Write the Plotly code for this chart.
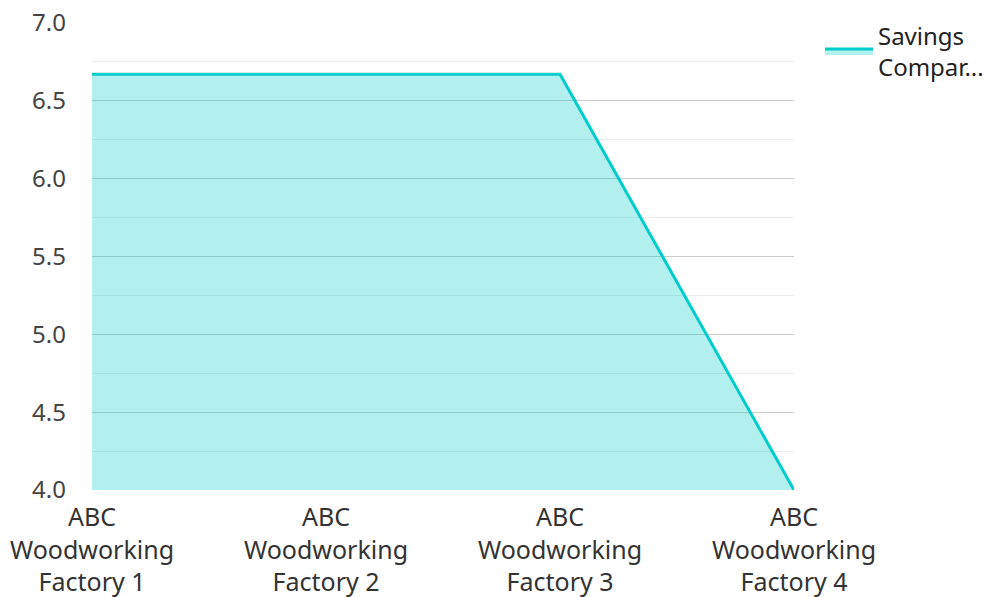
import plotly.graph_objects as go

categories = ["ABC<br>Woodworking<br>Factory 1", "ABC<br>Woodworking<br>Factory 2",
              "ABC<br>Woodworking<br>Factory 3", "ABC<br>Woodworking<br>Factory 4"]
values = [6.67, 6.67, 6.67, 4.0]
series_name = "Savings<br>Compar..."
y_ticks = [4.0, 4.5, 5.0, 5.5, 6.0, 6.5, 7.0]
y_tick_labels = ["4.0", "4.5", "5.0", "5.5", "6.0", "6.5", "7.0"]

fig = go.Figure()
fig.add_trace(go.Scatter(
    x=list(range(len(categories))), y=values, name=series_name,
    mode="lines", fill="tozeroy",
    line=dict(color="#00CCCC", width=3),
    fillcolor="rgba(0,204,204,0.3)",
    showlegend=True,
))

fig.update_layout(
    width=989, height=597,
    margin=dict(l=92, r=195, t=23, b=107, autoexpand=False),
    paper_bgcolor="white", plot_bgcolor="white",
    font=dict(family="Noto Sans", size=24, color="#444444"),
    legend=dict(x=1.037, y=1.021, xanchor="left", yanchor="top", itemwidth=48,
                font=dict(size=24, color="#222222"), bgcolor="rgba(0,0,0,0)"),
    xaxis=dict(
        range=[0, 3], tickmode="array", tickvals=list(range(len(categories))),
        ticktext=categories, showgrid=False, zeroline=False, showline=False,
        ticks="", ticklabelstandoff=10, tickfont=dict(size=25, color="#333333"),
        automargin=False,
    ),
    yaxis=dict(
        range=[4.0, 7.0], tickmode="array", tickvals=y_ticks, ticktext=y_tick_labels,
        showgrid=True, gridcolor="#cccccc", gridwidth=1, zeroline=False, showline=False,
        ticks="", ticklabelstandoff=25, tickfont=dict(size=24, color="#444444"),
        minor=dict(dtick=0.25, showgrid=True, gridcolor="#ebebeb", gridwidth=1),
        automargin=False,
    ),
)

fig.write_html("out.html")
